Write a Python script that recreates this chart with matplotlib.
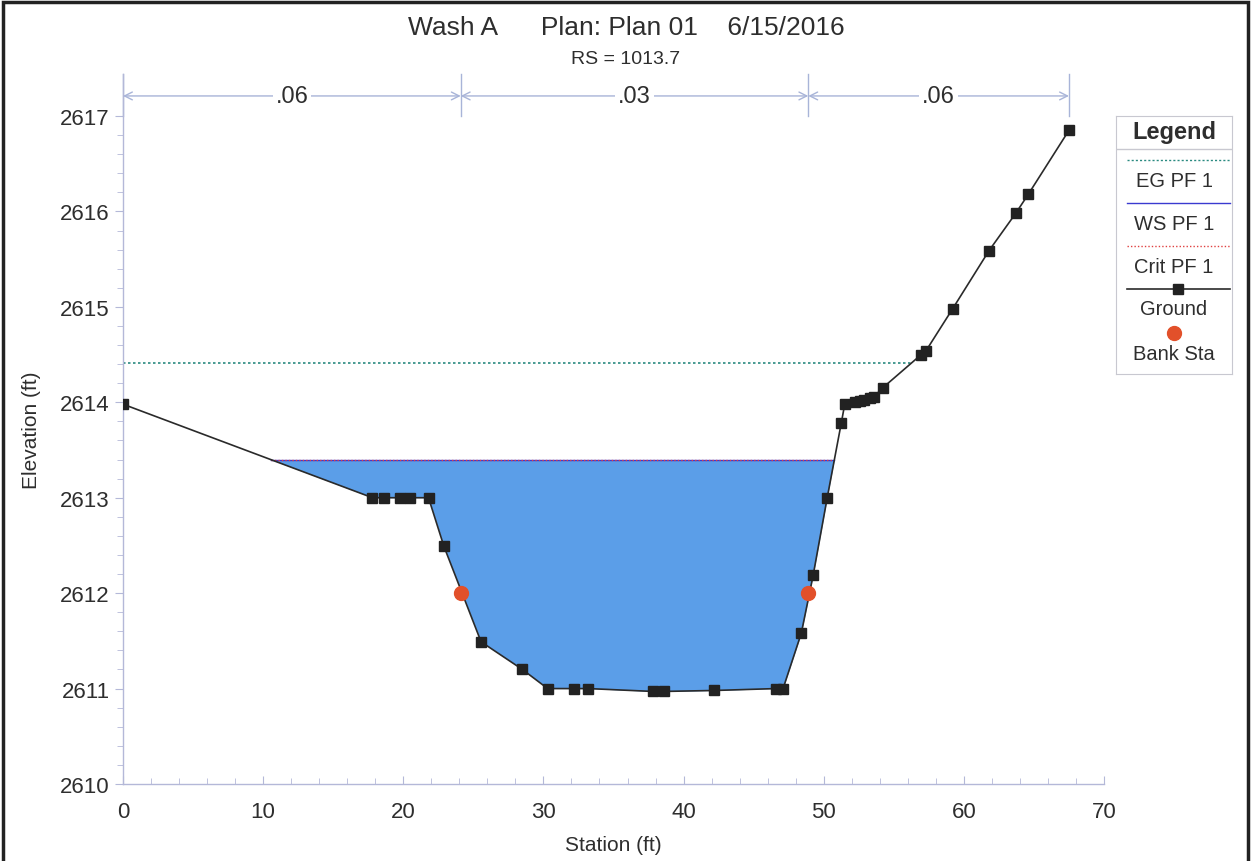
import matplotlib.pyplot as plt
import numpy as np
from matplotlib.patches import Rectangle

plt.rcParams['font.family'] = ['Liberation Sans', 'DejaVu Sans']

# ground survey points (station ft, elevation ft)
sta = [0.0, 17.8, 18.6, 19.8, 20.5, 21.8, 22.9, 25.55, 28.5, 30.3, 32.2, 33.2,
       37.8, 38.6, 42.2, 46.6, 47.1, 48.4, 49.25, 50.25, 51.25, 51.5, 52.25,
       52.6, 52.9, 53.3, 53.6, 54.2, 56.96, 57.3, 59.2, 61.8, 63.7, 64.6, 67.5]
elev = [2613.98, 2613.0, 2613.0, 2613.0, 2613.0, 2613.0, 2612.49, 2611.49,
        2611.2, 2611.0, 2611.0, 2611.0, 2610.97, 2610.97, 2610.98, 2611.0,
        2611.0, 2611.58, 2612.19, 2613.0, 2613.78, 2613.98, 2614.0, 2614.01,
        2614.02, 2614.04, 2614.06, 2614.15, 2614.5, 2614.54, 2614.98, 2615.59,
        2615.98, 2616.18, 2616.85]
bank_sta = [24.1, 48.9]
bank_elev = [2612.0, 2612.0]
ws_elev = 2613.40
crit_elev = 2613.40
eg_elev = 2614.41
eg_end = 56.2
n_bounds = [0.0, 24.1, 48.9, 67.5]
n_vals = ['.06', '.03', '.06']

txt = '#2e2e2e'
axcol = '#b4b8d8'

fig = plt.figure(figsize=(12.52, 8.62), dpi=100)
fig.patches.append(Rectangle((0.002, -0.01), 0.995, 1.006, transform=fig.transFigure,
                             fill=False, edgecolor='#222222', lw=2.5))
ax = fig.add_axes([123/1252, 77/862, 981/1252, 710/862])
ax.set_xlim(0, 70)
ax.set_ylim(2610, 2617.44)
for s in ['top', 'right']:
    ax.spines[s].set_visible(False)
for s in ['left', 'bottom']:
    ax.spines[s].set_color(axcol)
    ax.spines[s].set_linewidth(1)
ax.set_xticks(np.arange(0, 71, 10))
ax.set_xticks(np.arange(0, 71, 2), minor=True)
ax.set_yticks(np.arange(2610, 2618, 1))
ax.set_yticks(np.arange(2610, 2617.01, 0.2), minor=True)
ax.tick_params(which='both', color=axcol, labelcolor=txt, labelsize=16)
ax.tick_params(which='major', length=6)
ax.tick_params(which='minor', length=4)
ax.tick_params(axis='y', which='both', direction='out')
ax.tick_params(axis='x', which='both', direction='in', pad=12)
ax.set_xlabel('Station (ft)', fontsize=15, color=txt, va='center')
ax.xaxis.set_label_coords(0.5, -(848 - 787) / 710)
ax.set_ylabel('Elevation (ft)', fontsize=15, color=txt, labelpad=14)

x = np.array(sta)
g = np.array(elev)
ws = np.full_like(g, ws_elev)
ax.fill_between(x, g, ws, where=g < ws, interpolate=True, color='#5b9ee8', lw=0, zorder=1)

# water surface line limited to wet extent
xf = np.linspace(0, 67.5, 4000)
gf = np.interp(xf, x, g)
wet = xf[gf < ws_elev]
ax.plot([wet.min(), wet.max()], [ws_elev, ws_elev], color='#3a3ad0', lw=1, zorder=2)
ax.plot([wet.min(), wet.max()], [crit_elev, crit_elev], color='#e04040', lw=1, ls=(0, (1, 1.5)), zorder=3)
ax.plot([0, eg_end], [eg_elev, eg_elev], color='#2a8a80', lw=1.2, ls=(0, (1.5, 1.5)), zorder=2)

ax.plot(sta, elev, color='#2a2a2a', lw=1.2, marker='s', ms=6.5, mfc='#222222', mec='#222222', zorder=4)
ax.plot(bank_sta, bank_elev, 'o', color='#e2502a', ms=10, zorder=5)

# Manning's n segments
ny = 2617.21
ncol = '#a8b4d8'
for b in n_bounds:
    ax.plot([b, b], [2617.0, 2617.44], color=ncol, lw=1, clip_on=False, zorder=2)
for i in range(len(n_vals)):
    a, b = n_bounds[i], n_bounds[i + 1]
    ax.annotate('', xy=(b, ny), xytext=(a, ny),
                arrowprops=dict(arrowstyle='<->', color=ncol, lw=1, shrinkA=0, shrinkB=0,
                                mutation_scale=14), annotation_clip=False)
    ax.text((a + b) / 2, ny, n_vals[i], ha='center', va='center', fontsize=17, color=txt,
            bbox=dict(facecolor='white', edgecolor='none', pad=2))

fig.text(0.5, 1 - 28/862, 'Wash A      Plan: Plan 01    6/15/2016', ha='center', va='center',
         fontsize=19, color=txt)
fig.text(0.5, 1 - 59/862, 'RS = 1013.7', ha='center', va='center', fontsize=14, color=txt)

# legend panel
lg = fig.add_axes([1116/1252, (862-375)/862, 116/1252, 258/862])
lg.set_xlim(0, 116)
lg.set_ylim(258, 0)
lg.set_xticks([])
lg.set_yticks([])
for s in lg.spines.values():
    s.set_color('#c8c8d0')
lg.text(58, 16, 'Legend', ha='center', va='center', fontsize=17, fontweight='bold', color=txt)
lg.plot([0, 116], [33, 33], color='#c8c8d0', lw=1)
lg.plot([11, 114], [44, 44], color='#2a8a80', lw=1, ls=(0, (1.5, 1.5)))
lg.text(58, 65, 'EG PF 1', ha='center', va='center', fontsize=14.5, color=txt)
lg.plot([11, 114], [87, 87], color='#3a3ad0', lw=1)
lg.text(58, 108, 'WS PF 1', ha='center', va='center', fontsize=14.5, color=txt)
lg.plot([11, 114], [130, 130], color='#e04040', lw=1, ls=(0, (1, 1.5)))
lg.text(58, 151, 'Crit PF 1', ha='center', va='center', fontsize=14.5, color=txt)
lg.plot([11, 114], [173, 173], color='#2a2a2a', lw=1.2)
lg.plot([62], [173], 's', color='#222222', ms=6.5)
lg.text(58, 193, 'Ground', ha='center', va='center', fontsize=14.5, color=txt)
lg.plot([58], [217], 'o', color='#e2502a', ms=10)
lg.text(58, 238, 'Bank Sta', ha='center', va='center', fontsize=14.5, color=txt)

fig.savefig('out.png', dpi=100)
